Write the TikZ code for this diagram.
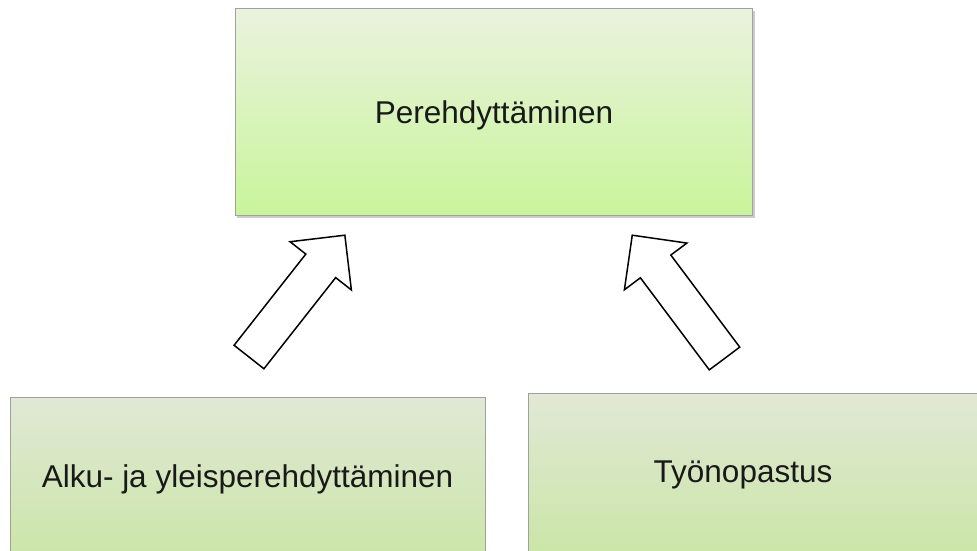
\documentclass[tikz,border=0pt]{standalone}
\usepackage{fontspec}
\setmainfont{Liberation Sans}
\definecolor{topA}{HTML}{EAF3DE}
\definecolor{topB}{HTML}{C9F49B}
\definecolor{botA}{HTML}{E1E8D6}
\definecolor{botB}{HTML}{C4E59A}
\definecolor{edge}{HTML}{9EA39A}
\begin{document}
\begin{tikzpicture}[x=1pt,y=-1pt,
  box/.style={draw=edge, line width=1pt},
  lbl/.style={font=\fontsize{31.5}{38}\selectfont, inner sep=0pt, anchor=base, text=black!90},
  blockarrow/.style={draw=black, line width=1.5pt, fill=white, line join=miter}]
\clip (0,0) rectangle (977,550);
\fill[white] (0,0) rectangle (977,550);
% top box with shadow
\fill[black!40, opacity=0.5] (237,11) rectangle (755,218);
\path[box, top color=topA, bottom color=topB] (235,8) rectangle (752,215);
\node[lbl] (top) at (494,123) {Perehdyttäminen};
% bottom boxes
\path[box, top color=botA, bottom color=botB] (10,397) rectangle (485,604);
\path[box, top color=botA, bottom color=botB] (528,393) rectangle (990,600);
\node[lbl] (left) at (247.5,487) {Alku- ja yleisperehdyttäminen};
\node[lbl] (right) at (743,482) {Työnopastus};
% block arrows
\coordinate (t1) at (249,357);
\coordinate (t2) at (724.5,358.5);
\begin{scope}[shift={(t1)}, rotate=51.8]
  \draw[blockarrow] (0pt,19pt) -- (116pt,19pt) -- (116pt,39pt) -- (155pt,0pt)
    -- (116pt,-39pt) -- (116pt,-19pt) -- (0pt,-19pt) -- cycle;
\end{scope}
\begin{scope}[shift={(t2)}, rotate=126.8]
  \draw[blockarrow] (0pt,19pt) -- (115pt,19pt) -- (115pt,39pt) -- (154pt,0pt)
    -- (115pt,-39pt) -- (115pt,-19pt) -- (0pt,-19pt) -- cycle;
\end{scope}
\end{tikzpicture}
\end{document}
